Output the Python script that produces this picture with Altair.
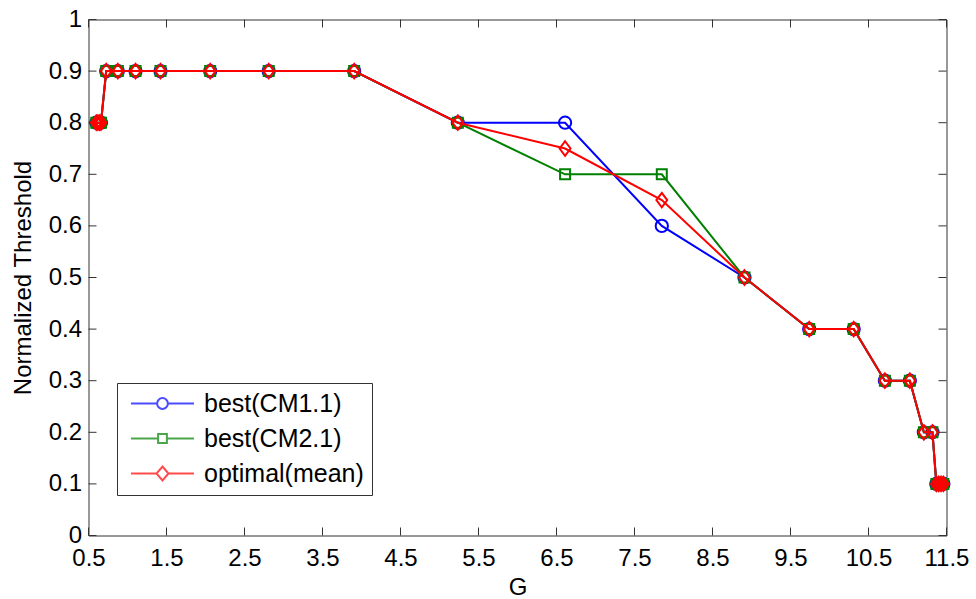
import altair as alt
import pandas as pd

# G values shared by the three series (dense clusters at both ends)
g_values = [0.60, 0.62, 0.64, 0.66,
            0.727, 0.876, 1.103, 1.423, 2.06, 2.81, 3.906,
            5.235, 6.61, 7.85, 8.91, 9.74, 10.31, 10.71, 11.03, 11.21, 11.32,
            11.37, 11.40, 11.43, 11.46]

thr_cm1 = [0.8] * 4 + [0.9] * 7 + [0.8, 0.8, 0.6, 0.5, 0.4, 0.4, 0.3, 0.3, 0.2, 0.2] + [0.1] * 4
thr_cm2 = [0.8] * 4 + [0.9] * 7 + [0.8, 0.7, 0.7, 0.5, 0.4, 0.4, 0.3, 0.3, 0.2, 0.2] + [0.1] * 4
thr_mean = [0.8] * 4 + [0.9] * 7 + [0.8, 0.75, 0.65, 0.5, 0.4, 0.4, 0.3, 0.3, 0.2, 0.2] + [0.1] * 4

series_names = ["best(CM1.1)", "best(CM2.1)", "optimal(mean)"]
series_colors = ["#0000FF", "#008000", "#FF0000"]
series_values = [thr_cm1, thr_cm2, thr_mean]

x_ticks = [0.5 + i for i in range(12)]
y_ticks = [round(0.1 * i, 1) for i in range(11)]

FONT = "Liberation Sans"
W, H = 858, 516
FRAME = "#333333"

# plot markers: circle, square, tall diamond
marker_shapes = ["circle", "square", "M0,-1L0.75,0L0,1L-0.75,0Z"]
marker_sizes = [150, 100, 210]

# legend glyphs: a short line through the marker
legend_paths = [
    "M-3.15,0H-0.54M0.54,0H3.15M-0.54,0A0.54,0.54 0 1,0 0.54,0A0.54,0.54 0 1,0 -0.54,0",
    "M-3.15,0H-0.44M0.44,0H3.15M-0.44,-0.44H0.44V0.44H-0.44Z",
    "M-3.15,0H-0.6M0.6,0H3.15M0,-0.7L0.6,0L0,0.7L-0.6,0Z",
]

rows = []
for name, vals in zip(series_names, series_values):
    for g, t in zip(g_values, vals):
        rows.append({"series": name, "G": g, "threshold": t})
df = pd.DataFrame(rows)

xs = alt.Scale(domain=[0.5, 11.5], nice=False, zero=False)
ys = alt.Scale(domain=[0, 1], nice=False)
x_axis = alt.Axis(values=x_ticks, format=".1f", title="G", ticks=False, domain=False,
                  grid=False, labelPadding=11, titlePadding=5, labelFlush=False)
y_axis = alt.Axis(values=y_ticks, format=".1~f", title="Normalized Threshold", ticks=False,
                  domain=False, grid=False, labelPadding=7, titlePadding=13, labelFlush=False)

X = alt.X("G:Q", scale=xs, axis=x_axis)
Y = alt.Y("threshold:Q", scale=ys, axis=y_axis)

# inward-pointing tick marks on all four sides
xt = pd.DataFrame({"G": x_ticks})
yt = pd.DataFrame({"threshold": y_ticks})
tick_style = dict(color=FRAME, strokeWidth=1)
ticks = [
    alt.Chart(xt).mark_rule(**tick_style).encode(x=X, y=alt.value(H), y2=alt.value(H - 8)),
    alt.Chart(xt).mark_rule(**tick_style).encode(x=X, y=alt.value(0), y2=alt.value(8)),
    alt.Chart(yt).mark_rule(**tick_style).encode(y=Y, x=alt.value(0), x2=alt.value(8)),
    alt.Chart(yt).mark_rule(**tick_style).encode(y=Y, x=alt.value(W), x2=alt.value(W - 8)),
]

series_layers = []
for name, color, shape, size in zip(series_names, series_colors, marker_shapes, marker_sizes):
    base = alt.Chart(df).transform_filter(alt.datum.series == name)
    series_layers.append(base.mark_line(color=color, strokeWidth=2).encode(x=X, y=Y))
    series_layers.append(
        base.mark_point(shape=shape, size=size, filled=False, color=color, strokeWidth=2,
                        opacity=1).encode(x=X, y=Y)
    )

# legend carrier: no rows drawn, only the scales feed the legend
legend_layer = alt.Chart(df).transform_filter("false").mark_point(filled=False, strokeWidth=2).encode(
    color=alt.Color("series:N", scale=alt.Scale(domain=series_names, range=series_colors),
                    legend=alt.Legend(title=None)),
    shape=alt.Shape("series:N", scale=alt.Scale(domain=series_names, range=legend_paths),
                    legend=alt.Legend(title=None)),
)

chart = alt.layer(*ticks, *series_layers, legend_layer).properties(
    width=W, height=H,
    autosize=alt.AutoSizeParams(type="none"),
    padding={"left": 88.5, "top": 19.5, "right": 29.5, "bottom": 63.5},
).configure_view(
    stroke=FRAME, strokeWidth=1
).configure_axis(
    labelFont=FONT, labelFontSize=24, labelColor="black",
    titleFont=FONT, titleFontSize=24, titleFontWeight="normal", titleColor="black",
).configure_legend(
    orient="none", legendX=28.5, legendY=363.5,
    strokeColor=FRAME, fillColor="white", padding=8,
    symbolSize=400, symbolStrokeWidth=2, symbolOffset=25, labelOffset=29,
    labelFont=FONT, labelFontSize=25, labelColor="black", rowPadding=9,
    symbolType="circle",
)

chart.save("out.html", embed_options={"renderer": "svg", "actions": False})
